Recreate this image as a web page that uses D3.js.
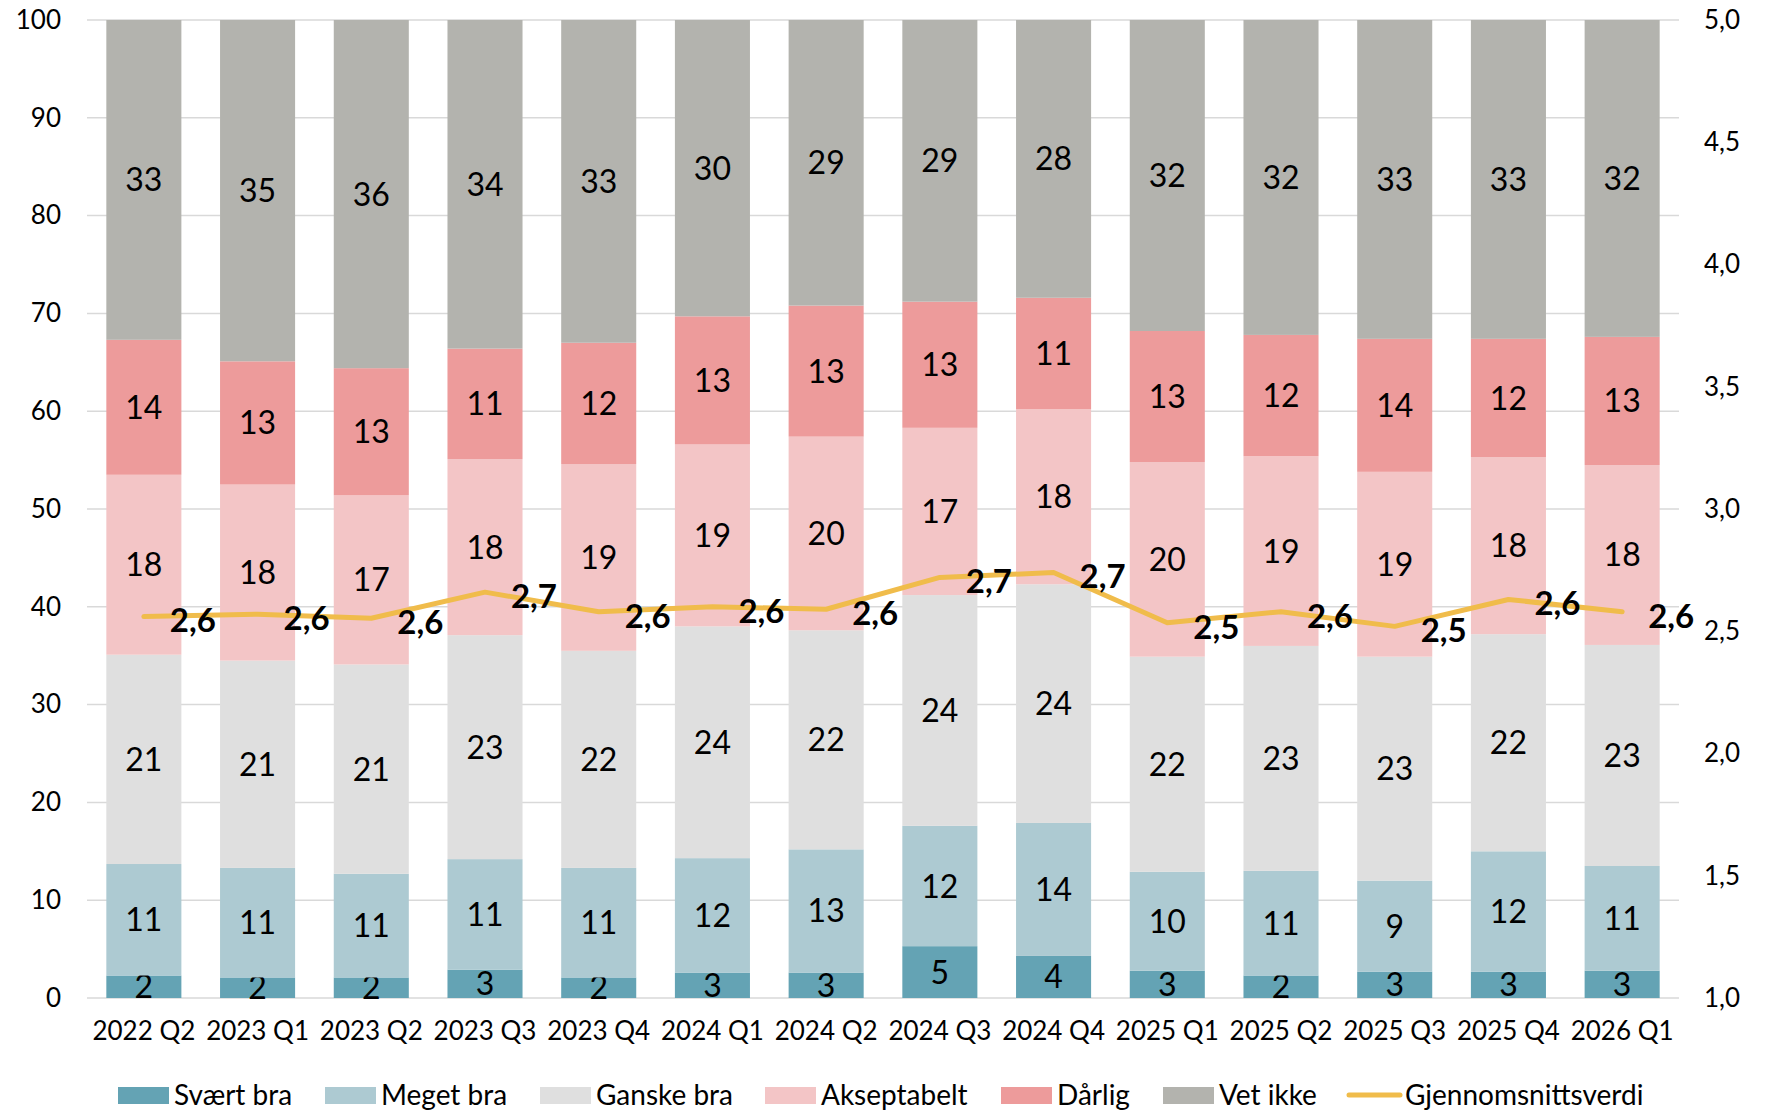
<!DOCTYPE html>
<meta charset="utf-8">
<style>
body {
  margin: 0;
  font-family: Lato, "Noto Sans", sans-serif;
  background: #fff;
}
.grid line {
  stroke: #d9d9d9;
  stroke-width: 1.5px;
}
.seg-label {
  font-size: 32px;
  fill: #000;
}
.avg-label {
  font-size: 33px;
  font-weight: bold;
  fill: #000;
}
.axis text {
  font-size: 26px;
  fill: #000;
}
.legend text {
  font-size: 28px;
  fill: #000;
}
</style>
<body>
<script src="https://d3js.org/d3.v7.min.js"></script>
<script>

var width = 1770,
    height = 1111;

var quarters = ["2022 Q2", "2023 Q1", "2023 Q2", "2023 Q3", "2023 Q4", "2024 Q1", "2024 Q2",
                "2024 Q3", "2024 Q4", "2025 Q1", "2025 Q2", "2025 Q3", "2025 Q4", "2026 Q1"];

var seriesNames = ["Svært bra", "Meget bra", "Ganske bra", "Akseptabelt", "Dårlig", "Vet ikke"];
var seriesKeys = ["svaert", "meget", "ganske", "aksept", "darlig", "vetikke"];
var colors = ["#64a3b4", "#adcad2", "#dfdfdf", "#f3c5c6", "#ed9b9b", "#b3b3ae"];

// andel i prosent, lest av figuren
var svaert  = [2.3, 2.1, 2.1, 2.9, 2.1, 2.6, 2.6, 5.3, 4.3, 2.8, 2.3, 2.7, 2.7, 2.8];
var meget   = [11.4, 11.2, 10.6, 11.3, 11.2, 11.7, 12.6, 12.3, 13.6, 10.1, 10.7, 9.3, 12.3, 10.7];
var ganske  = [21.4, 21.2, 21.4, 22.9, 22.2, 23.7, 22.4, 23.6, 24.4, 22.0, 23.0, 22.9, 22.2, 22.6];
var aksept  = [18.4, 18.0, 17.3, 18.0, 19.1, 18.6, 19.8, 17.1, 17.9, 19.9, 19.4, 18.9, 18.1, 18.4];
var darlig  = [13.8, 12.6, 13.0, 11.3, 12.4, 13.1, 13.4, 12.9, 11.4, 13.4, 12.4, 13.6, 12.1, 13.1];
var vetikke = [32.7, 34.9, 35.6, 33.6, 33.0, 30.3, 29.2, 28.8, 28.4, 31.8, 32.2, 32.6, 32.6, 32.4];

// gjennomsnittsverdi (høyre akse)
var average = [2.56, 2.57, 2.553, 2.66, 2.58, 2.6, 2.59, 2.72, 2.74, 2.535, 2.58, 2.52, 2.63, 2.58];

var leftTicks = [0, 10, 20, 30, 40, 50, 60, 70, 80, 90, 100];
var rightTicks = [1.0, 1.5, 2.0, 2.5, 3.0, 3.5, 4.0, 4.5, 5.0];

var seriesData = [svaert, meget, ganske, aksept, darlig, vetikke];

var table = quarters.map(function(q, i) {
  var row = {quarter: q};
  seriesKeys.forEach(function(k, j) { row[k] = seriesData[j][i]; });
  return row;
});

var plotLeft = 87, plotRight = 1679, plotTop = 20, plotBottom = 998;

var x = d3.scaleBand()
    .domain(quarters)
    .range([plotLeft, plotRight])
    .paddingInner(0.34)
    .paddingOuter(0.17);

var y = d3.scaleLinear().domain([0, 100]).range([plotBottom, plotTop]);
var yR = d3.scaleLinear().domain([1, 5]).range([plotBottom, plotTop]);

var comma = function(v) { return v.toFixed(1).replace(".", ","); };

var svg = d3.select("body").append("svg")
    .attr("width", width)
    .attr("height", height);

// gridlines
svg.append("g")
    .attr("class", "grid")
  .selectAll("line")
  .data(leftTicks)
  .enter().append("line")
    .attr("x1", plotLeft)
    .attr("x2", plotRight)
    .attr("y1", function(d) { return y(d); })
    .attr("y2", function(d) { return y(d); });

// left axis
var leftAxis = svg.append("g")
    .attr("class", "axis")
    .attr("transform", "translate(61,0)")
    .call(d3.axisLeft(y).tickValues(leftTicks).tickSize(0).tickPadding(0));
leftAxis.select(".domain").remove();

// right axis
var rightAxis = svg.append("g")
    .attr("class", "axis")
    .attr("transform", "translate(1704,0)")
    .call(d3.axisRight(yR).tickValues(rightTicks).tickSize(0).tickPadding(0).tickFormat(comma));
rightAxis.select(".domain").remove();

// x axis
var xAxis = svg.append("g")
    .attr("class", "axis")
    .attr("transform", "translate(0," + (plotBottom + 24) + ")")
    .call(d3.axisBottom(x).tickSize(0).tickPadding(0));
xAxis.select(".domain").remove();
xAxis.selectAll("text").attr("dy", "0.71em");

svg.selectAll(".axis").attr("font-family", null).attr("font-size", null);

// stacked bars
var stack = d3.stack().keys(seriesKeys);
var stacked = stack(table);

var layers = svg.append("g").selectAll("g")
  .data(stacked)
  .enter().append("g")
    .attr("fill", function(d, i) { return colors[i]; });

layers.selectAll("rect")
  .data(function(d) { return d; })
  .enter().append("rect")
    .attr("x", function(d) { return x(d.data.quarter); })
    .attr("width", x.bandwidth())
    .attr("y", function(d) { return y(d[1]); })
    .attr("height", function(d) { return y(d[0]) - y(d[1]); });

// segment labels
layers.selectAll("text")
  .data(function(d) { return d; })
  .enter().append("text")
    .attr("class", "seg-label")
    .attr("text-anchor", "middle")
    .attr("dy", "0.36em")
    .attr("x", function(d) { return x(d.data.quarter) + x.bandwidth() / 2; })
    .attr("y", function(d) { return y((d[0] + d[1]) / 2); })
    .text(function(d) { return (d[1] - d[0]).toFixed(0); });

// average line
var line = d3.line()
    .x(function(d, i) { return x(quarters[i]) + x.bandwidth() / 2; })
    .y(function(d) { return yR(d); });

svg.append("path")
    .datum(average)
    .attr("fill", "none")
    .attr("stroke", "#f0bc4b")
    .attr("stroke-width", 5)
    .attr("stroke-linejoin", "round")
    .attr("stroke-linecap", "round")
    .attr("d", line);

svg.append("g").selectAll("text")
  .data(average)
  .enter().append("text")
    .attr("class", "avg-label")
    .attr("text-anchor", "middle")
    .attr("dy", "0.36em")
    .attr("x", function(d, i) { return x(quarters[i]) + x.bandwidth() / 2 + 49; })
    .attr("y", function(d) { return yR(d) + 4; })
    .text(comma);

// legend
var legendY = 1095;
var legendItems = [
  {name: seriesNames[0], color: colors[0], x: 118},
  {name: seriesNames[1], color: colors[1], x: 325},
  {name: seriesNames[2], color: colors[2], x: 540},
  {name: seriesNames[3], color: colors[3], x: 765},
  {name: seriesNames[4], color: colors[4], x: 1001},
  {name: seriesNames[5], color: colors[5], x: 1163},
  {name: "Gjennomsnittsverdi", color: "#f0bc4b", x: 1349, line: true}
];

var legend = svg.append("g").attr("class", "legend")
  .selectAll("g")
  .data(legendItems)
  .enter().append("g")
    .attr("transform", function(d) { return "translate(" + d.x + "," + legendY + ")"; });

legend.each(function(d) {
  var g = d3.select(this);
  if (d.line) {
    g.append("line")
        .attr("x1", 0).attr("x2", 51)
        .attr("stroke", d.color)
        .attr("stroke-width", 5)
        .attr("stroke-linecap", "round");
  } else {
    g.append("rect")
        .attr("y", -8)
        .attr("width", 51)
        .attr("height", 17)
        .attr("fill", d.color);
  }
  g.append("text")
      .attr("x", 56)
      .attr("dy", "0.36em")
      .text(d.name);
});

</script>
